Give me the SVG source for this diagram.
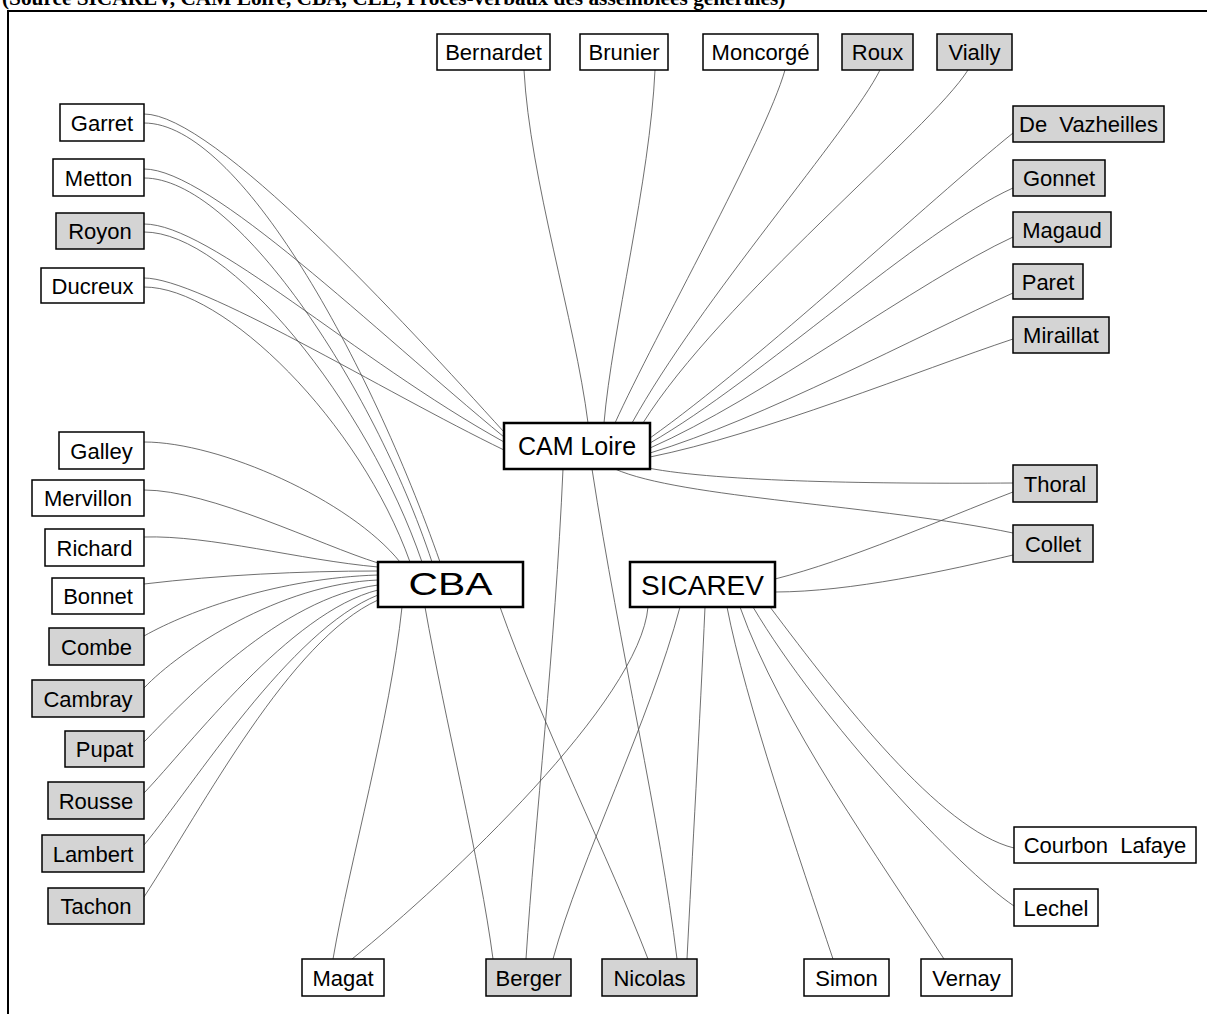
<svg xmlns="http://www.w3.org/2000/svg" width="1207" height="1014" viewBox="0 0 1207 1014">
  <style>
    .bg { fill: #ffffff; }
    .frame { fill: none; stroke: #000; stroke-width: 2; }
    .title { font-family: "Liberation Serif", "Times New Roman", serif; font-weight: bold; font-size: 21.3px; fill: #000; }
    .node rect { fill: #ffffff; stroke: #000; stroke-width: 1.5; }
    .node.member rect { fill: #d4d4d4; }
    .node text { font-family: "Liberation Sans", Arial, sans-serif; font-size: 22px; fill: #000; text-anchor: middle; }
    .hub rect { fill: #ffffff; stroke: #000; stroke-width: 2.5; }
    .hub text { font-family: "Liberation Sans", Arial, sans-serif; fill: #000; text-anchor: middle; }
    #links path { fill: none; stroke: #4a4a4a; stroke-width: 0.8; }
  </style>

  <rect class="bg" x="0" y="0" width="1207" height="1014"/>

  <!-- caption above the frame (clipped by the top edge) -->
  <text class="title" x="2" y="5">(Source SICAREV, CAM Loire, CBA, CEL, Procès-verbaux des assemblées générales)</text>

  <!-- frame -->
  <path class="frame" d="M8,1014 V11 H1207"/>

  <!-- links -->
  <g id="links">
    <!-- top row to CAM Loire -->
    <path d="M524,70 C530,180 575,320 588,423"/>
    <path d="M655,70 C650,180 612,330 604,423"/>
    <path d="M785,70 C765,140 655,335 615,423"/>
    <path d="M880,70 C850,130 700,300 632,423"/>
    <path d="M968,70 C930,130 720,300 643,423"/>
    <!-- right fan to CAM Loire -->
    <path d="M650,438 C760,360 930,200 1013,133"/>
    <path d="M650,443 C760,380 920,230 1013,188"/>
    <path d="M650,448 C760,400 920,280 1013,237"/>
    <path d="M650,453 C760,420 920,335 1013,293"/>
    <path d="M650,457 C760,435 920,370 1013,339"/>
    <!-- CAM Loire to Thoral / Collet -->
    <path d="M648,468 C720,482 880,484 1013,483"/>
    <path d="M615,469 C680,498 880,505 1013,533"/>
    <!-- CAM Loire downwards -->
    <path d="M563,469 C555,650 535,820 526,959"/>
    <path d="M592,469 C620,650 660,820 677,959"/>
    <!-- upper left group to CAM Loire -->
    <path d="M144,114 C214,114 404,322 504,432"/>
    <path d="M144,169 C210,169 374,330 504,437"/>
    <path d="M144,224 C210,224 354,359 504,442"/>
    <path d="M144,278 C200,278 384,392 504,450"/>
    <!-- upper left group to CBA -->
    <path d="M144,123 C240,123 370,362 440,562"/>
    <path d="M144,178 C235,178 372,382 432,562"/>
    <path d="M144,232 C230,232 367,402 422,562"/>
    <path d="M144,287 C225,287 360,422 410,562"/>
    <!-- lower left group to CBA -->
    <path d="M144,442 C220,442 350,500 400,562"/>
    <path d="M144,490 C210,490 320,545 378,563"/>
    <path d="M144,537 C210,535 300,560 378,567"/>
    <path d="M144,584 C220,575 300,571 378,571"/>
    <path d="M144,636 C190,610 280,578 378,575"/>
    <path d="M144,688 C180,650 280,584 378,580"/>
    <path d="M144,742 C185,700 280,598 378,585"/>
    <path d="M144,793 C190,745 290,612 378,590"/>
    <path d="M144,845 C194,785 290,630 378,595"/>
    <path d="M144,897 C204,805 290,640 378,600"/>
    <!-- CBA downwards -->
    <path d="M402,607 C390,720 350,860 333,959"/>
    <path d="M425,607 C445,720 480,860 493,959"/>
    <path d="M500,607 C540,720 610,860 648,959"/>
    <!-- SICAREV downwards -->
    <path d="M648,607 C640,700 450,880 352,959"/>
    <path d="M680,607 C650,720 580,860 553,959"/>
    <path d="M705,607 C700,720 692,860 687,959"/>
    <path d="M727,607 C745,700 800,860 833,959"/>
    <path d="M740,607 C780,720 880,860 944,959"/>
    <path d="M753,607 C820,720 960,870 1014,906"/>
    <path d="M770,607 C840,700 940,830 1014,848"/>
    <!-- SICAREV to Thoral / Collet -->
    <path d="M775,579 C850,560 940,520 1013,492"/>
    <path d="M775,592 C850,592 950,570 1013,555"/>
  </g>

  <!-- hubs -->
  <g id="cam-loire" class="hub"><rect x="504" y="423" width="146" height="46"/><text x="577" y="455" font-size="25">CAM Loire</text></g>
  <g id="cba" class="hub"><rect x="378" y="562" width="145" height="45"/><text x="450.5" y="595" font-size="31" textLength="84" lengthAdjust="spacingAndGlyphs">CBA</text></g>
  <g id="sicarev" class="hub"><rect x="630" y="562" width="145" height="45"/><text x="702.5" y="595" font-size="28">SICAREV</text></g>

  <!-- top row -->
  <g id="bernardet" class="node"><rect x="437" y="34" width="113" height="36"/><text x="493.5" y="60">Bernardet</text></g>
  <g id="brunier" class="node"><rect x="580" y="34" width="88" height="36"/><text x="624" y="60">Brunier</text></g>
  <g id="moncorge" class="node"><rect x="703" y="34" width="115" height="36"/><text x="760.5" y="60">Moncorgé</text></g>
  <g id="roux" class="node member"><rect x="842" y="34" width="71" height="36"/><text x="877.5" y="60">Roux</text></g>
  <g id="vially" class="node member"><rect x="937" y="34" width="75" height="36"/><text x="974.5" y="60">Vially</text></g>

  <!-- right column -->
  <g id="de-vazheilles" class="node member"><rect x="1013" y="106" width="151" height="36"/><text x="1088.5" y="132" xml:space="preserve">De  Vazheilles</text></g>
  <g id="gonnet" class="node member"><rect x="1013" y="160" width="92" height="36"/><text x="1059" y="186">Gonnet</text></g>
  <g id="magaud" class="node member"><rect x="1013" y="212" width="98" height="35"/><text x="1062" y="238">Magaud</text></g>
  <g id="paret" class="node member"><rect x="1013" y="264" width="70" height="35"/><text x="1048" y="290">Paret</text></g>
  <g id="miraillat" class="node member"><rect x="1013" y="317" width="96" height="36"/><text x="1061" y="343">Miraillat</text></g>
  <g id="thoral" class="node member"><rect x="1013" y="465" width="84" height="37"/><text x="1055" y="492">Thoral</text></g>
  <g id="collet" class="node member"><rect x="1013" y="525" width="80" height="37"/><text x="1053" y="552">Collet</text></g>
  <g id="courbon-lafaye" class="node"><rect x="1014" y="827" width="182" height="36"/><text x="1105" y="853" xml:space="preserve">Courbon  Lafaye</text></g>
  <g id="lechel" class="node"><rect x="1014" y="889" width="84" height="37"/><text x="1056" y="916">Lechel</text></g>

  <!-- bottom row -->
  <g id="magat" class="node"><rect x="302" y="959" width="82" height="37"/><text x="343" y="986">Magat</text></g>
  <g id="berger" class="node member"><rect x="486" y="959" width="85" height="37"/><text x="528.5" y="986">Berger</text></g>
  <g id="nicolas" class="node member"><rect x="602" y="959" width="95" height="37"/><text x="649.5" y="986">Nicolas</text></g>
  <g id="simon" class="node"><rect x="804" y="959" width="85" height="37"/><text x="846.5" y="986">Simon</text></g>
  <g id="vernay" class="node"><rect x="921" y="959" width="91" height="37"/><text x="966.5" y="986">Vernay</text></g>

  <!-- left column -->
  <g id="garret" class="node"><rect x="60" y="104" width="84" height="37"/><text x="102" y="131">Garret</text></g>
  <g id="metton" class="node"><rect x="53" y="159" width="91" height="37"/><text x="98.5" y="186">Metton</text></g>
  <g id="royon" class="node member"><rect x="56" y="213" width="88" height="36"/><text x="100" y="239">Royon</text></g>
  <g id="ducreux" class="node"><rect x="41" y="268" width="103" height="35"/><text x="92.5" y="294">Ducreux</text></g>
  <g id="galley" class="node"><rect x="59" y="432" width="85" height="37"/><text x="101.5" y="459">Galley</text></g>
  <g id="mervillon" class="node"><rect x="32" y="480" width="112" height="36"/><text x="88" y="506">Mervillon</text></g>
  <g id="richard" class="node"><rect x="45" y="529" width="99" height="37"/><text x="94.5" y="556">Richard</text></g>
  <g id="bonnet" class="node"><rect x="52" y="578" width="92" height="36"/><text x="98" y="604">Bonnet</text></g>
  <g id="combe" class="node member"><rect x="49" y="628" width="95" height="37"/><text x="96.5" y="655">Combe</text></g>
  <g id="cambray" class="node member"><rect x="32" y="680" width="112" height="37"/><text x="88" y="707">Cambray</text></g>
  <g id="pupat" class="node member"><rect x="65" y="731" width="79" height="36"/><text x="104.5" y="757">Pupat</text></g>
  <g id="rousse" class="node member"><rect x="48" y="782" width="96" height="37"/><text x="96" y="809">Rousse</text></g>
  <g id="lambert" class="node member"><rect x="42" y="835" width="102" height="37"/><text x="93" y="862">Lambert</text></g>
  <g id="tachon" class="node member"><rect x="48" y="888" width="96" height="36"/><text x="96" y="914">Tachon</text></g>
</svg>
